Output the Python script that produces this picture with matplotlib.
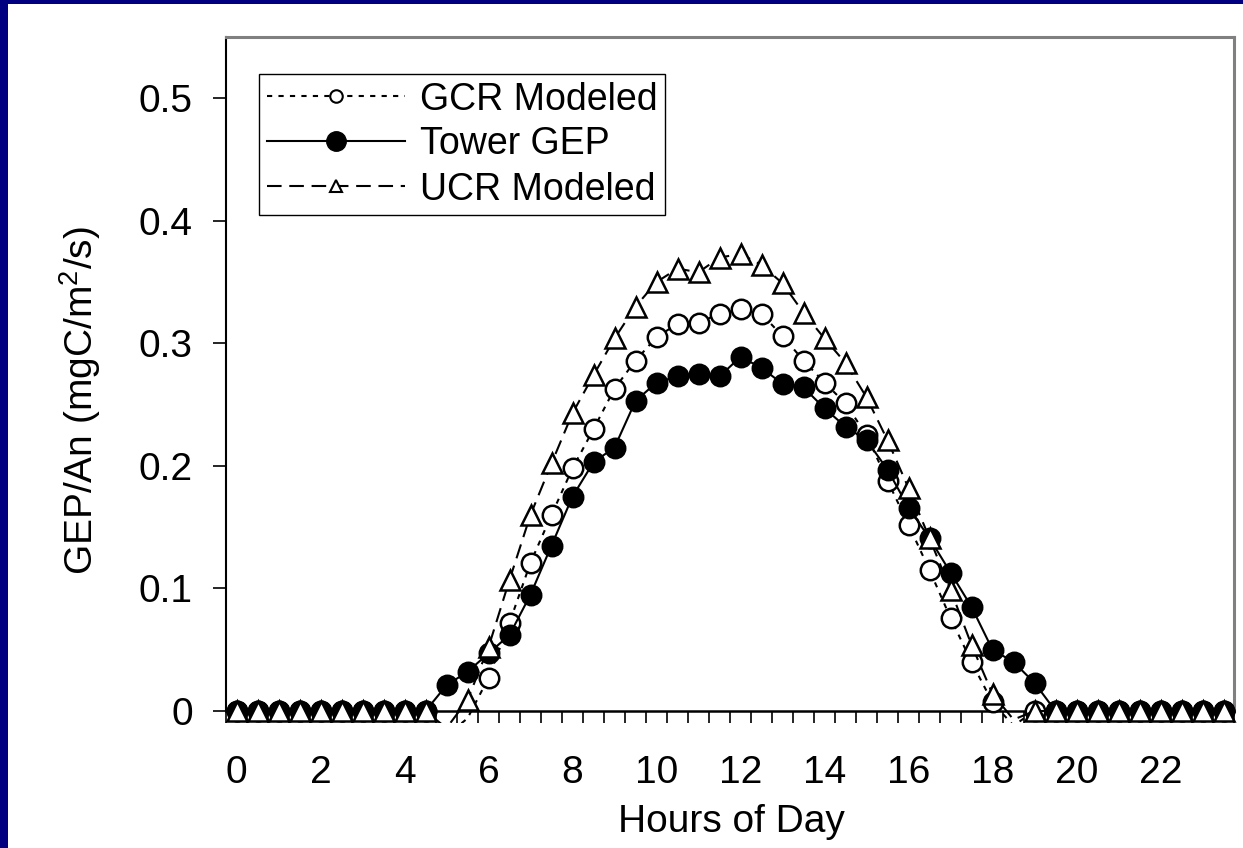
import numpy as np
import matplotlib
matplotlib.use("Agg")
import matplotlib.pyplot as plt
from matplotlib.lines import Line2D
from matplotlib.patches import Rectangle
from matplotlib.transforms import Bbox, TransformedBbox

plt.rcParams['font.family'] = ['Liberation Sans', 'DejaVu Sans']
plt.rcParams['mathtext.fontset'] = 'custom'
plt.rcParams['mathtext.rm'] = 'Liberation Sans'
plt.rcParams['mathtext.it'] = 'Liberation Sans:italic'

# half-hourly values
hours = [0, 0.5, 1, 1.5, 2, 2.5, 3, 3.5, 4, 4.5, 5, 5.5,
         6, 6.5, 7, 7.5, 8, 8.5, 9, 9.5, 10, 10.5, 11, 11.5,
         12, 12.5, 13, 13.5, 14, 14.5, 15, 15.5, 16, 16.5, 17, 17.5,
         18, 18.5, 19, 19.5, 20, 20.5, 21, 21.5, 22, 22.5, 23, 23.5]

gcr_modeled = [0, 0, 0, 0, 0, 0, 0, 0, 0, 0, -0.02, -0.006,
               0.027, 0.072, 0.121, 0.160, 0.198, 0.230, 0.263, 0.286, 0.305, 0.316, 0.317, 0.324,
               0.328, 0.324, 0.306, 0.286, 0.268, 0.251, 0.225, 0.188, 0.152, 0.115, 0.076, 0.040,
               0.007, -0.012, 0, 0, 0, 0, 0, 0, 0, 0, 0, 0]

tower_gep = [0, 0, 0, 0, 0, 0, 0, 0, 0, 0, 0.021, 0.032,
             0.047, 0.062, 0.095, 0.135, 0.175, 0.203, 0.215, 0.253, 0.268, 0.273, 0.275, 0.273,
             0.289, 0.280, 0.267, 0.264, 0.247, 0.232, 0.221, 0.197, 0.166, 0.141, 0.113, 0.085,
             0.050, 0.040, 0.023, 0, 0, 0, 0, 0, 0, 0, 0, 0]

ucr_modeled = [0, 0, 0, 0, 0, 0, 0, 0, 0, 0, -0.014, 0.009,
               0.052, 0.107, 0.160, 0.202, 0.243, 0.274, 0.304, 0.330, 0.350, 0.361, 0.358, 0.370,
               0.373, 0.364, 0.349, 0.325, 0.304, 0.284, 0.256, 0.221, 0.182, 0.141, 0.099, 0.054,
               0.014, -0.007, 0, 0, 0, 0, 0, 0, 0, 0, 0, 0]

x_labels = ['0', '2', '4', '6', '8', '10', '12', '14', '16', '18', '20', '22']
y_ticks = [0, 0.1, 0.2, 0.3, 0.4, 0.5]
y_labels = ['0', '0.1', '0.2', '0.3', '0.4', '0.5']

W, H = 1243, 848
fig = plt.figure(figsize=(W / 100, H / 100), dpi=100)
fig.patch.set_facecolor('#000080')
fig.add_artist(Rectangle((8 / W, 0), 1, 1 - 4 / H, transform=fig.transFigure,
                         facecolor='white', edgecolor='none', zorder=-1))

ax = fig.add_axes([226 / W, 137 / H, 1008 / W, 674 / H])
ax.set_facecolor('white')
ax.set_xlim(-0.25, 23.75)
ax.set_ylim(0, 0.55)

# lines may dip a little below the axis, like in the original
line_clip = TransformedBbox(Bbox([[-0.25, -0.0098], [23.75, 0.6]]), ax.transData)

series = [
    (gcr_modeled, dict(dashes=(2.5, 3)), dict(marker='o', mfc='white')),
    (tower_gep, dict(linestyle='-'), dict(marker='o', mfc='black')),
    (ucr_modeled, dict(dashes=(7, 3.7)), dict(marker='^', mfc='white')),
]
z = 2
for vals, lstyle, mstyle in series:
    ln, = ax.plot(hours, vals, color='k', lw=1.5, zorder=z, **lstyle)
    ln.set_clip_box(line_clip)
    # points below the axis get no marker
    shown = np.ma.masked_less(np.array(vals), 0)
    ax.plot(hours, shown, ls='none', ms=14, mec='k', mew=1.8,
            clip_on=False, zorder=z + 1, **mstyle)
    z += 2

ax.set_xticks(hours[::4])
ax.set_xticklabels(x_labels)
ax.set_xticks(np.arange(-0.25, 23.8, 0.5), minor=True)
ax.tick_params(axis='x', which='major', length=0, pad=32, labelsize=28)
ax.tick_params(axis='x', which='minor', length=8.6, width=1.2, color='k')
ax.set_yticks(y_ticks)
ax.set_yticklabels(y_labels)
ax.tick_params(axis='y', length=9.4, width=1.2, pad=14.4, labelsize=28)

for s in ['top', 'right']:
    ax.spines[s].set_color('#808080')
    ax.spines[s].set_linewidth(2.2)
ax.spines['left'].set_color('k')
ax.spines['left'].set_linewidth(1.5)
ax.spines['bottom'].set_color('k')
ax.spines['bottom'].set_linewidth(1.8)

fig.text(731 / W, 1 - 832 / H, 'Hours of Day', ha='center', va='baseline', fontsize=28)
fig.text(80 / W, 1 - 401 / H, 'GEP/An (mgC/m$^2$/s)', rotation=90,
         ha='center', va='center', fontsize=28)

h1 = Line2D([], [], color='k', lw=1.5, dashes=(2.5, 3), marker='o', ms=9,
            mfc='white', mec='k', mew=1.5)
h2 = Line2D([], [], color='k', lw=1.5, marker='o', ms=14, mfc='k', mec='k')
h3 = Line2D([], [], color='k', lw=1.5, dashes=(7, 3.7), marker='^', ms=9,
            mfc='white', mec='k', mew=1.5)
leg = ax.legend([h1, h2, h3], ['GCR Modeled', 'Tower GEP', 'UCR Modeled'],
                loc='upper left', bbox_to_anchor=(259 / W, 1 - 74 / H),
                bbox_transform=fig.transFigure, borderaxespad=0, fontsize=27,
                handlelength=3.7, handletextpad=0.4, labelspacing=0.24,
                borderpad=0.2, fancybox=False, framealpha=1, edgecolor='k',
                numpoints=1)
leg.get_frame().set_linewidth(1.0)
leg.set_zorder(10)

fig.savefig('out.png', dpi=100, facecolor=fig.get_facecolor())
